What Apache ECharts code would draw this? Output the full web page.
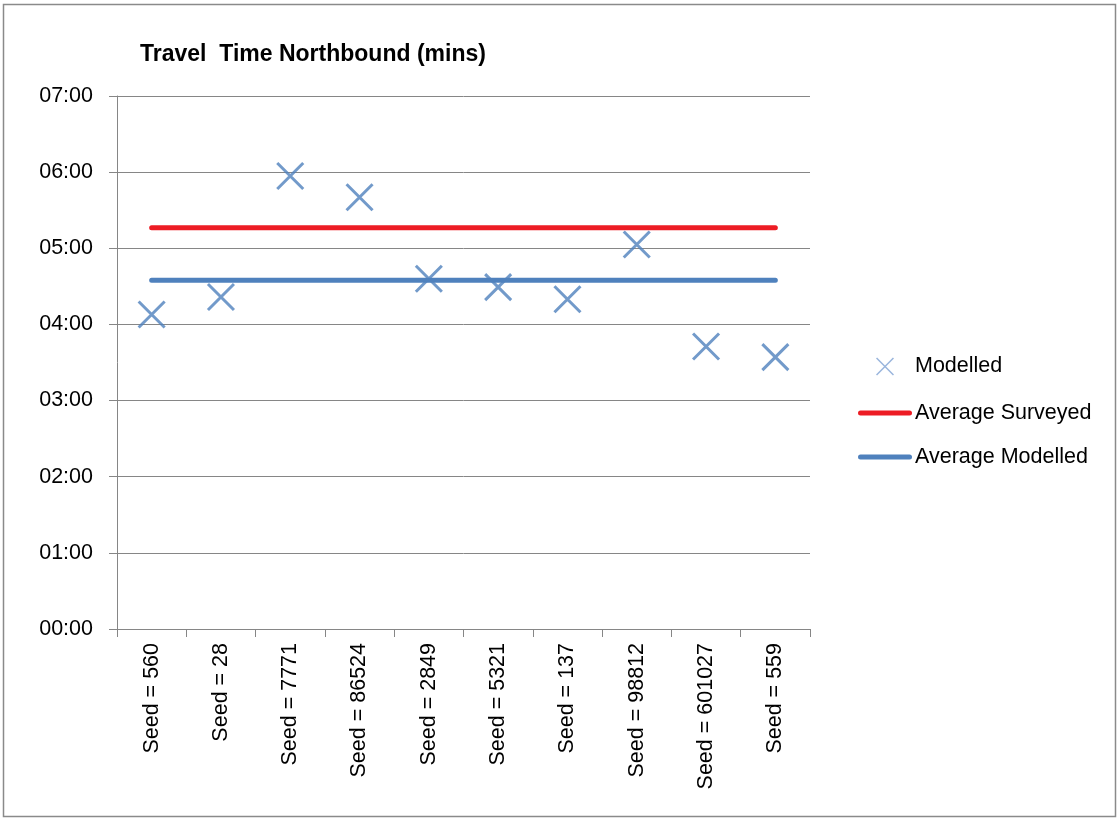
<!DOCTYPE html>
<html>
<head>
<meta charset="utf-8">
<script src="https://cdn.jsdelivr.net/npm/echarts@6/dist/echarts.min.js"></script>
<style>
html,body{margin:0;padding:0;background:#fff;}
#chart{width:1119px;height:819px;}
</style>
</head>
<body>
<div id="chart"></div>
<script>
// Data (travel time in minutes, decimal)
const categories = ['Seed = 560','Seed = 28','Seed = 7771','Seed = 86524','Seed = 2849','Seed = 5321','Seed = 137','Seed = 98812','Seed = 601027','Seed = 559'];
const modelled = [4.13, 4.36, 5.95, 5.67, 4.60, 4.49, 4.33, 5.05, 3.71, 3.57];
const averageSurveyed = [5.27, 5.27, 5.27, 5.27, 5.27, 5.27, 5.27, 5.27, 5.27, 5.27];
const averageModelled = [4.58, 4.58, 4.58, 4.58, 4.58, 4.58, 4.58, 4.58, 4.58, 4.58];
const yTicks = ['00:00','01:00','02:00','03:00','04:00','05:00','06:00','07:00'];

const FONT = "'Liberation Sans', Arial, sans-serif";
const LINE_ICON = 'path://M2.5,0H51.5A2.5,2.5,0,0,1,51.5,5H2.5A2.5,2.5,0,0,1,2.5,0Z';
const X_ICON = 'path://M-3,-3M0,0L20,20M20,0L0,20M23,23';
const chart = echarts.init(document.getElementById('chart'), null, {renderer:'canvas'});
chart.setOption({
  animation: false,
  backgroundColor: '#ffffff',
  textStyle: {fontFamily: FONT, color: '#000'},
  graphic: [{
    type: 'rect', silent: true, z: -1,
    shape: {x: 3.5, y: 4.5, width: 1112, height: 812},
    style: {fill: 'none', stroke: '#8a8a8a', lineWidth: 1.5}
  }],
  title: {
    text: 'Travel  Time Northbound (mins)',
    left: 135, top: 38,
    textStyle: {fontFamily: FONT, fontSize: 23, fontWeight: 'bold', color: '#000'}
  },
  legend: {
    orient: 'vertical',
    left: 853, top: 348,
    itemWidth: 54, itemHeight: 22, itemGap: 22,
    textStyle: {fontFamily: FONT, fontSize: 21.5, color: '#000', padding: [0,0,0,-2]},
    data: [
      {name: 'Modelled', icon: X_ICON, itemStyle: {color: 'none', borderColor: '#7FA3D3', borderWidth: 1.5}},
      {name: 'Average Surveyed', icon: LINE_ICON, itemStyle: {color: '#ED1C24', borderWidth: 0}},
      {name: 'Average Modelled', icon: LINE_ICON, itemStyle: {color: '#4F81BD', borderWidth: 0}}
    ]
  },
  grid: {left: 117, right: 309, top: 96, bottom: 190, containLabel: false},
  xAxis: {
    type: 'category',
    data: categories,
    boundaryGap: true,
    axisLine: {lineStyle: {color: '#868686', width: 1}},
    axisTick: {show: true, length: 8, interval: 0, lineStyle: {color: '#868686'}},
    axisLabel: {rotate: 90, interval: 0, margin: 14, fontSize: 21.5, color: '#000', fontFamily: FONT},
    splitLine: {show: false}
  },
  yAxis: {
    type: 'value',
    min: 0, max: 7, interval: 1,
    axisLine: {show: true, lineStyle: {color: '#868686', width: 1}},
    axisTick: {show: true, length: 8, lineStyle: {color: '#868686'}},
    axisLabel: {margin: 24, fontSize: 21.5, color: '#000', fontFamily: FONT,
      padding: [5,0,0,0],
      formatter: v => yTicks[Math.round(v)]},
    splitLine: {show: true, lineStyle: {color: '#868686', width: 1}}
  },
  series: [
    {
      name: 'Modelled', type: 'scatter', data: modelled,
      symbol: 'path://M0,0L20,20M20,0L0,20', symbolSize: 26,
      itemStyle: {color: 'none', borderColor: '#4F81BD', borderWidth: 3}
    },
    {
      name: 'Average Surveyed', type: 'line', data: averageSurveyed,
      symbol: 'none', lineStyle: {color: '#ED1C24', width: 5, cap: 'round'},
      itemStyle: {color: '#ED1C24'}
    },
    {
      name: 'Average Modelled', type: 'line', data: averageModelled,
      symbol: 'none', lineStyle: {color: '#4F81BD', width: 5, cap: 'round'},
      itemStyle: {color: '#4F81BD'}
    }
  ]
});
</script>
</body>
</html>
